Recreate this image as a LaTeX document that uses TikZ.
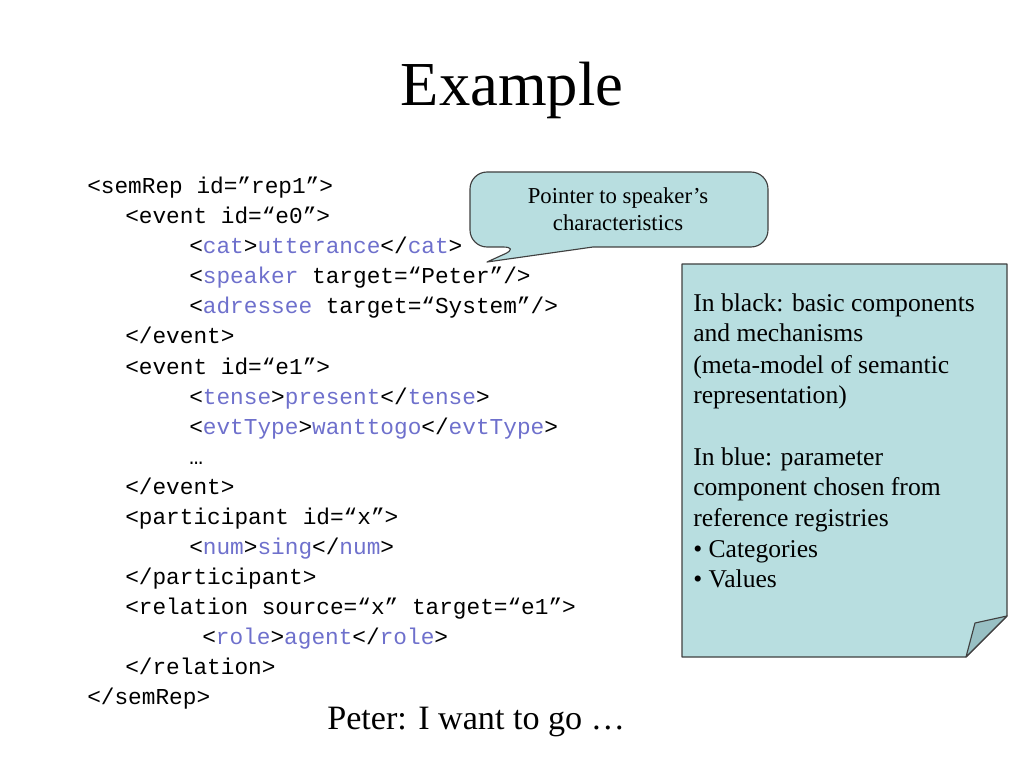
\documentclass[tikz,border=0pt]{standalone}
\usepackage{fontspec}
\setmainfont{Liberation Serif}
\newfontfamily\codefont{Liberation Mono}
\definecolor{tagblue}{RGB}{110,112,204}
\definecolor{notefill}{RGB}{184,222,224}
\definecolor{foldfill}{RGB}{152,192,196}
\definecolor{edgegray}{RGB}{64,64,64}
\newcommand{\bl}[1]{\textcolor{tagblue}{#1}}
\begin{document}
\begin{tikzpicture}[x=0.703125pt,y=-0.703125pt,
  code/.style={anchor=base west,inner sep=0pt,font=\codefont\fontsize{16}{19}\selectfont},
  notetext/.style={anchor=base west,inner sep=0pt,font=\fontsize{18}{21}\selectfont},
  calltext/.style={anchor=base,inner sep=0pt,font=\fontsize{16}{19}\selectfont},
  shapefill/.style={fill=notefill,draw=edgegray,line width=0.8pt,line join=round}]
\useasboundingbox (0,0) rectangle (1024,768);

% title
\node[anchor=base,inner sep=0pt,font=\fontsize{44}{50}\selectfont] (title) at (512,106) {Example};

% code
\node[code] (l1) at (87,194) {<semRep id=”rep1”>};
\node[code] (l2) at (125,224) {<event id=“e0”>};
\node[code] (l3) at (189,254) {<\bl{cat}>\bl{utterance}</\bl{cat}>};
\node[code] (l4) at (189,284) {<\bl{speaker} target=“Peter”/>};
\node[code] (l5) at (189,314) {<\bl{adressee} target=“System”/>};
\node[code] (l6) at (125,344) {</event>};
\node[code] (l7) at (125,374) {<event id=“e1”>};
\node[code] (l8) at (189,404) {<\bl{tense}>\bl{present}</\bl{tense}>};
\node[code] (l9) at (189,434) {<\bl{evtType}>\bl{wanttogo}</\bl{evtType}>};
\node[code] (l10) at (189,464) {…};
\node[code] (l11) at (125,494) {</event>};
\node[code] (l12) at (125,524) {<participant id=“x”>};
\node[code] (l13) at (189,554) {<\bl{num}>\bl{sing}</\bl{num}>};
\node[code] (l14) at (125,584) {</participant>};
\node[code] (l15) at (125,614) {<relation source=“x” target=“e1”>};
\node[code] (l16) at (202,644) {<\bl{role}>\bl{agent}</\bl{role}>};
\node[code] (l17) at (125,674) {</relation>};
\node[code] (l18) at (87,704) {</semRep>};

% callout
\draw[shapefill] (520,247) -- (487,262) -- (593,247)
  [rounded corners=12] -- (768,247) -- (768,172) -- (470,172) -- (470,247) -- cycle;
\node[calltext] (c1) at (618,204) {Pointer to speaker’s};
\node[calltext] (c2) at (618,231) {characteristics};

% note
\draw[shapefill] (682,264) -- (1007,264) -- (1007,616) -- (966,657) -- (682,657) -- cycle;
\draw[shapefill,fill=foldfill] (966,657) -- (975,623) -- (1007,616) -- cycle;
\node[notetext] (n1) at (693,312) {In black: basic components};
\node[notetext] (n2) at (693,342) {and mechanisms};
\node[notetext] (n3) at (693,373) {(meta-model of semantic};
\node[notetext] (n4) at (693,403) {representation)};
\node[notetext] (n5) at (693,465) {In blue: parameter};
\node[notetext] (n6) at (693,495) {component chosen from};
\node[notetext] (n7) at (693,526) {reference registries};
\node[notetext] (n8) at (693,557) {• Categories};
\node[notetext] (n9) at (693,587) {• Values};

% bottom sentence
\node[anchor=base west,inner sep=0pt,font=\fontsize{24}{28}\selectfont] (utt) at (327,729) {Peter: I want to go …};
\end{tikzpicture}
\end{document}
